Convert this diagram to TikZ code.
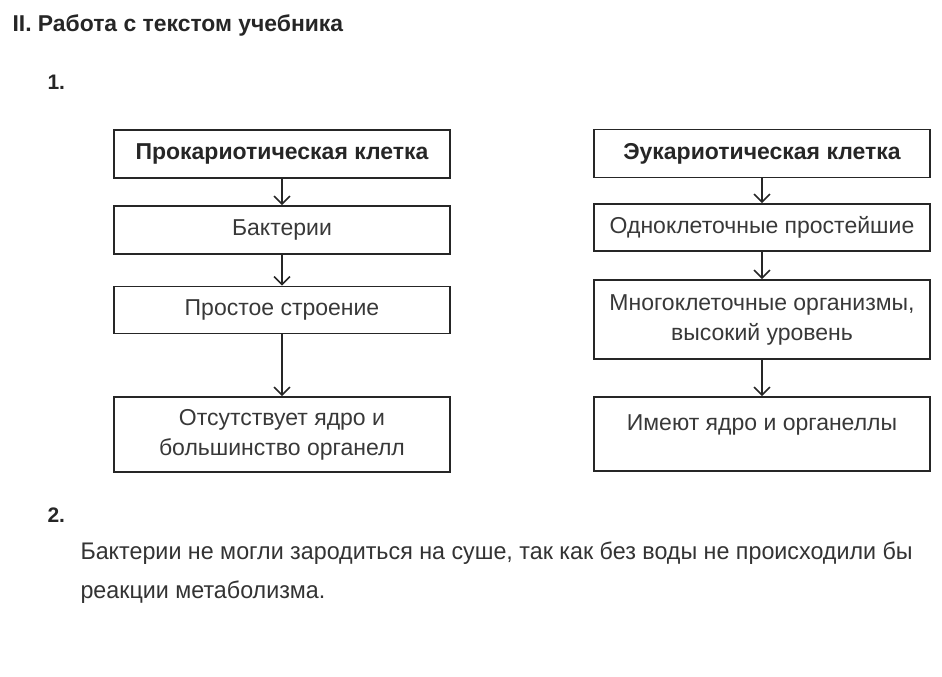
\documentclass[tikz,border=0pt]{standalone}
\usepackage{fontspec}
\setmainfont{Liberation Sans}
\newfontfamily\narrowfont[FakeStretch=0.97]{Liberation Sans}
\usetikzlibrary{arrows.meta}

\begin{document}
\begin{tikzpicture}[x=1pt,y=-1pt,
	every node/.style={text=black!85},
	cellbox/.style={draw=black!85, line width=1.8pt, minimum width=336pt, minimum height=48pt, inner sep=0pt, font=\fontsize{23}{30}\selectfont, text=black!78, align=center},
	headbox/.style={cellbox, font=\fontsize{23}{30}\selectfont\bfseries, text=black!85},
	flow/.style={draw=black!85, line width=1.5pt, -{Straight Barb[length=8pt,width=16pt,line width=1.5pt]}}]
	
	\useasboundingbox (0,0) rectangle (942,677);
	
	% headings
	\node[anchor=west, font=\fontsize{22.9}{25}\selectfont\bfseries] (title) at (9,25) {II. Работа с текстом учебника};
	\node[anchor=west, font=\fontsize{21}{24}\selectfont\bfseries] (one) at (44,82) {1.};
	\node[anchor=west, font=\fontsize{21}{24}\selectfont\bfseries] (two) at (44,515) {2.};
	
	% left column
	\node[headbox] (pro) at (282,154) {Прокариотическая клетка};
	\node[cellbox] (bact) at (282,230) {Бактерии};
	\node[cellbox, minimum height=47pt] (simple) at (282,310) {Простое строение};
	\node[cellbox, minimum height=75pt] (nonuc) at (282,434.5) {Отсутствует ядро и\\большинство органелл};
	
	% right column
	\node[headbox] (euk) at (762,153.5) {Эукариотическая клетка};
	\node[cellbox, minimum height=47pt] (protist) at (762,227.5) {Одноклеточные простейшие};
	\node[cellbox, minimum height=79pt] (multi) at (762,319.5) {Многоклеточные организмы,\\высокий уровень};
	\node[cellbox, minimum height=74pt] (nuc) at (762,434) {Имеют ядро и органеллы\\[-16pt]\strut};
	
	\draw[flow] (pro) -- (bact);
	\draw[flow] (bact) -- (simple);
	\draw[flow] (simple) -- (nonuc);
	\draw[flow] (euk) -- (protist);
	\draw[flow] (protist) -- (multi);
	\draw[flow] (multi) -- (nuc);
	
	% answer text
	\node[anchor=west, align=left, text=black!80, font=\narrowfont\fontsize{24}{39}\selectfont] (answer) at (77,573) {Бактерии не могли зародиться на суше, так как без воды не происходили бы\\реакции метаболизма.};
\end{tikzpicture}
\end{document}
